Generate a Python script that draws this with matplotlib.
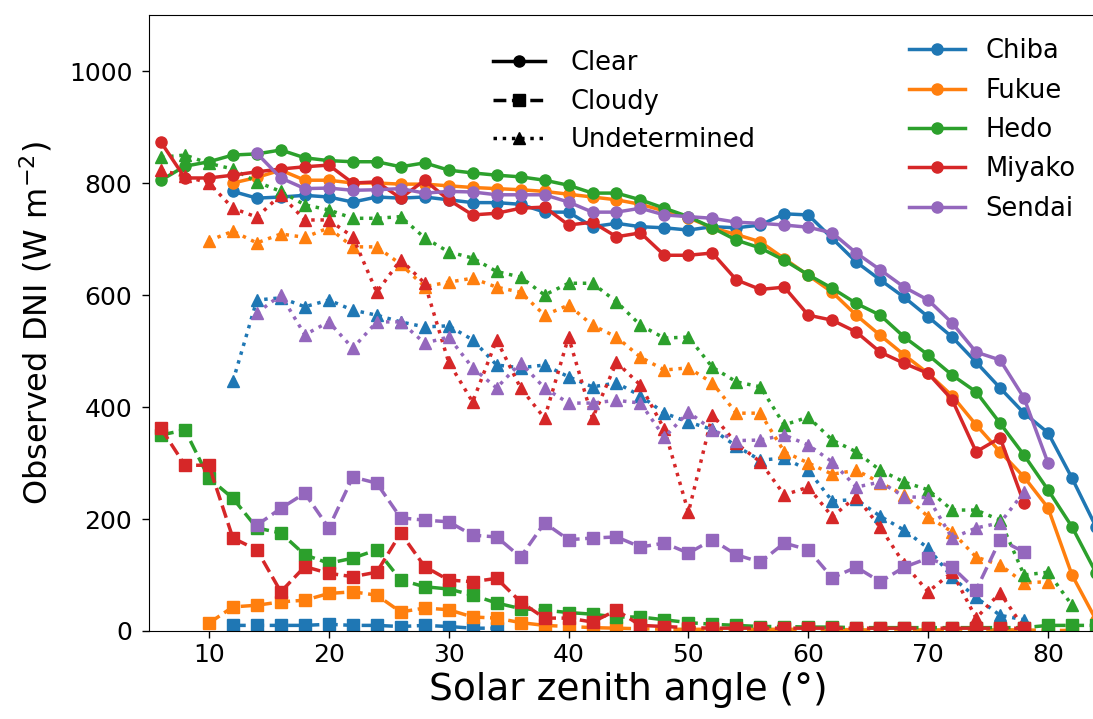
import numpy as np
import matplotlib
matplotlib.use("Agg")
import matplotlib.pyplot as plt
from matplotlib.lines import Line2D

nan = np.nan

# Solar zenith angle bins (degrees)
zenith = list(range(6, 86, 2))

sites = ["Chiba", "Fukue", "Hedo", "Miyako", "Sendai"]
colors = ["#1f77b4", "#ff7f0e", "#2ca02c", "#d62728", "#9467bd"]

# Mean observed DNI (W m-2) for clear-sky cases
clear_chiba = [nan, nan, nan, 785, 773, 775, 778, 775, 766, 775, 773, 775, 770, 765, 765, 762,
               748, 748, 722, 728, 722, 720, 716, 722, 720, 725, 745, 743, 701, 659, 627, 596,
               561, 525, 480, 434, 389, 354, 273, 186]
clear_fukue = [nan, nan, nan, 800, 810, 823, 805, 805, 800, 800, 798, 798, 795, 792, 790, 788,
               785, 780, 775, 770, 762, 750, 738, 720, 708, 695, 665, 635, 605, 564, 528, 493,
               460, 420, 368, 320, 275, 220, 100, 20]
clear_hedo = [805, 830, 838, 850, 852, 859, 845, 840, 838, 838, 829, 836, 823, 818, 814, 811,
              805, 796, 782, 782, 770, 755, 740, 720, 698, 684, 662, 636, 612, 585, 564, 525,
              493, 457, 427, 371, 314, 252, 186, 104]
clear_miyako = [873, 809, 809, 814, 820, 825, 829, 832, 800, 802, 773, 805, 770, 743, 746, 755,
                757, 725, 730, 704, 711, 671, 671, 675, 627, 610, 614, 564, 555, 534, 498, 478,
                460, 413, 320, 345, 228, nan, nan, nan]
clear_sendai = [nan, nan, nan, nan, 853, 809, 790, 791, 787, 788, 790, 782, 785, 784, 779, 779,
                779, 766, 748, 748, 755, 743, 740, 737, 730, 728, 725, 721, 711, 675, 645, 614,
                591, 550, 498, 484, 416, 300, nan, nan]

# Mean observed DNI (W m-2) for cloudy cases
cloudy_chiba = [nan, nan, nan, 10, 10, 10, 10, 12, 10, 10, 8, 10, 8, 5, 5, nan,
                nan, nan, nan, nan, nan, nan, nan, nan, nan, nan, nan, nan, nan, nan, nan, nan,
                nan, nan, nan, nan, nan, nan, nan, nan]
cloudy_fukue = [nan, nan, 14, 43, 46, 52, 55, 67, 70, 64, 34, 41, 38, 25, 23, 15,
                10, 8, 6, 5, 4, 3, 3, 3, 3, 3, 3, 3, 3, 2, 2, 2,
                2, 2, 2, 2, 2, 1, 1, nan]
cloudy_hedo = [350, 359, 273, 237, 184, 175, 136, 121, 130, 145, 91, 79, 75, 64, 50, 40,
               37, 33, 30, 25, 25, 20, 15, 12, 10, 8, 8, 7, 7, 6, 6, 6,
               6, 6, 6, 6, 6, 10, 10, 10]
cloudy_miyako = [362, 296, 296, 166, 145, 70, 115, 103, 97, 105, 175, 115, 91, 88, 94, 52,
                 23, 23, 16, 37, 10, 8, 6, 5, 5, 5, 5, 5, 5, 5, 5, 5,
                 5, 5, 5, 5, 5, nan, nan, nan]
cloudy_sendai = [nan, nan, nan, nan, 189, 219, 246, 184, 275, 264, 202, 198, 195, 171, 168, 132,
                 193, 163, 166, 168, 150, 157, 139, 163, 136, 123, 157, 145, 95, 114, 88, 114,
                 130, 114, 73, 163, 141, nan, nan, nan]

# Mean observed DNI (W m-2) for undetermined cases
undet_chiba = [nan, nan, nan, 446, 591, 595, 579, 591, 573, 564, 552, 543, 545, 520, 475, 470,
               475, 454, 436, 443, 420, 389, 373, 360, 330, 305, 309, 287, 232, 235, 205, 180,
               148, 96, 60, 28, 20, nan, nan, nan]
undet_fukue = [nan, nan, 697, 714, 693, 709, 703, 720, 686, 686, 655, 615, 623, 630, 614, 605,
               564, 582, 546, 525, 489, 466, 470, 443, 389, 389, 320, 300, 280, 287, 265, 243,
               204, 177, 132, 118, 86, 88, nan, nan]
undet_hedo = [846, 850, 835, 825, 802, 785, 761, 752, 737, 737, 740, 702, 677, 666, 642, 632,
              600, 621, 621, 588, 546, 523, 525, 471, 445, 436, 368, 382, 341, 320, 287, 266,
              252, 216, 216, 198, 100, 105, 46, nan]
undet_miyako = [823, 812, 800, 755, 739, 779, 734, 734, 704, 605, 663, 621, 480, 409, 520, 434,
                380, 525, 380, 480, 439, 360, 212, 386, 335, 302, 243, 257, 204, 240, 185, 120,
                70, 105, 23, 68, 5, nan, nan, nan]
undet_sendai = [nan, nan, nan, nan, 568, 600, 529, 552, 505, 552, 552, 514, 525, 470, 434, 479,
                434, 407, 407, 412, 407, 346, 391, 359, 340, 341, 350, 332, 302, 257, 266, 240,
                238, 166, 184, 193, 248, nan, nan, nan]

clear = [clear_chiba, clear_fukue, clear_hedo, clear_miyako, clear_sendai]
cloudy = [cloudy_chiba, cloudy_fukue, cloudy_hedo, cloudy_miyako, cloudy_sendai]
undet = [undet_chiba, undet_fukue, undet_hedo, undet_miyako, undet_sendai]

sky_types = ["Clear", "Cloudy", "Undetermined"]
styles = {"Clear": ("-", "o"), "Cloudy": ("--", "s"), "Undetermined": (":", "^")}

fig = plt.figure(figsize=(10.93, 7.19), dpi=100)
ax = fig.add_axes([0.1363, 0.1224, 0.8774, 0.8567])

lw = 2.5
ms = 8
for i, site in enumerate(sites):
    for sky, data in zip(sky_types, (clear[i], cloudy[i], undet[i])):
        ls, mk = styles[sky]
        ax.plot(zenith, data, linestyle=ls, marker=mk, color=colors[i],
                linewidth=lw, markersize=ms)

ax.set_xlim(5, 85)
ax.set_ylim(0, 1100)
ax.set_xticks(range(10, 81, 10))
ax.set_yticks(range(0, 1001, 200))
ax.tick_params(labelsize=18, length=5, width=1)
ax.tick_params(axis="y", pad=7)
ax.set_xlabel("Solar zenith angle (°)", fontsize=27)
ax.set_ylabel("Observed DNI (W m$^{-2}$)", fontsize=23, labelpad=10)

type_handles = [Line2D([], [], color="black", linestyle=styles[s][0], marker=styles[s][1],
                       linewidth=lw, markersize=ms) for s in sky_types]
leg1 = ax.legend(type_handles, sky_types, loc="upper left", bbox_to_anchor=(0.335, 0.98),
                 frameon=False, fontsize=18.5, handlelength=2.0, handletextpad=1.0,
                 labelspacing=0.48)
ax.add_artist(leg1)

site_handles = [Line2D([], [], color=c, linestyle="-", marker="o", linewidth=lw, markersize=ms)
                for c in colors]
ax.legend(site_handles, sites, loc="upper left", bbox_to_anchor=(0.768, 1.0),
          frameon=False, fontsize=18.5, handlelength=2.2, handletextpad=0.8,
          labelspacing=0.52)

fig.savefig("out.png", dpi=100)
